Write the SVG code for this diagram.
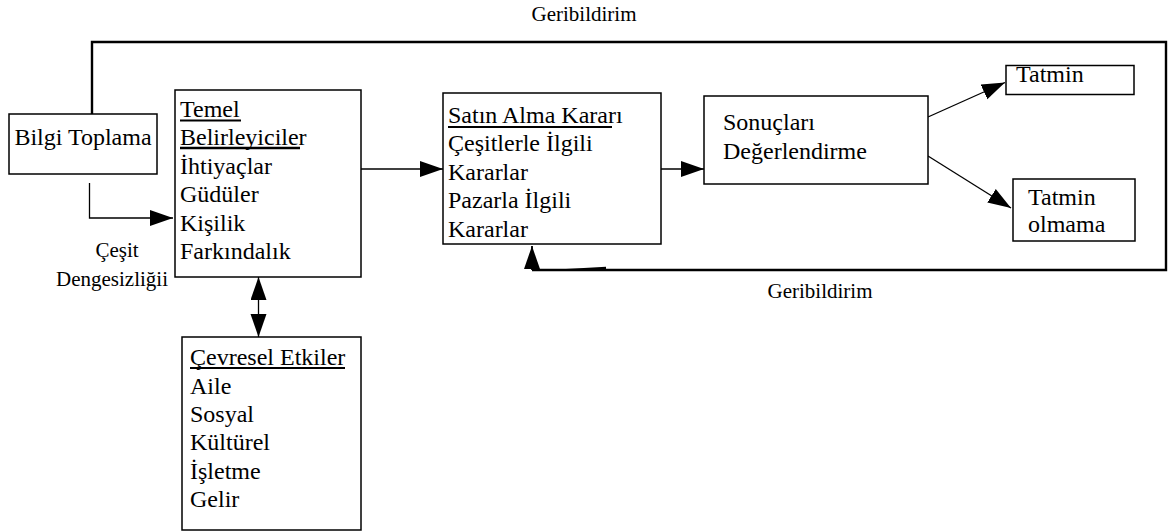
<svg xmlns="http://www.w3.org/2000/svg" width="1172" height="531" viewBox="0 0 1172 531">
  <style>
    .box { fill: #ffffff; stroke: #000000; stroke-width: 1.5; }
    .t { font-family: "Liberation Serif", "Times New Roman", serif; font-size: 24px; fill: #000000; }
    .lbl { font-family: "Liberation Serif", "Times New Roman", serif; font-size: 21px; fill: #000000; }
    .ul { stroke: #000000; stroke-width: 1.8; }
    .ln { fill: none; stroke: #000000; stroke-width: 1.3; }
    .fb { fill: none; stroke: #000000; stroke-width: 2.4; }
  </style>
  <defs>
    <marker id="head" markerUnits="userSpaceOnUse" markerWidth="24" markerHeight="17" refX="23" refY="8" orient="auto-start-reverse" viewBox="0 0 24 17">
      <path d="M0,0 L23,8 L0,16 Z" fill="#000000"/>
    </marker>
  </defs>

  <rect width="1172" height="531" fill="#ffffff"/>

  <!-- connectors -->
  <g id="connectors">
    <!-- upper feedback loop -->
    <path class="fb" d="M92,114 V42 H1166 V270 H532"/>
    <path class="ln" d="M532,270 V246" marker-end="url(#head)" style="stroke-width:1.8"/>
    <path d="M548,270 L606,266.8 L606,270 Z" fill="#000000"/>
    <!-- Bilgi Toplama to Temel Belirleyiciler -->
    <path class="ln" d="M89.5,183 V218 H173" marker-end="url(#head)"/>
    <!-- Temel Belirleyiciler to Satin Alma Karari -->
    <path class="ln" d="M361,169 H443" marker-end="url(#head)"/>
    <!-- Satin Alma Karari to Sonuclari Degerlendirme -->
    <path class="ln" d="M661,169 H704" marker-end="url(#head)"/>
    <!-- outcomes -->
    <path class="ln" d="M928,117 L1005,82.5" marker-end="url(#head)"/>
    <path class="ln" d="M928,156 L1011,208" marker-end="url(#head)"/>
    <!-- two-way link with environmental influences -->
    <path class="ln" d="M258.5,277 V337" marker-start="url(#head)" marker-end="url(#head)"/>
  </g>

  <!-- feedback labels -->
  <text class="lbl" x="584" y="21" text-anchor="middle">Geribildirim</text>
  <text class="lbl" x="820" y="298" text-anchor="middle">Geribildirim</text>
  <text class="lbl" x="117" y="257" text-anchor="middle">Çeşit</text>
  <text class="lbl" x="112" y="286" text-anchor="middle">Dengesizliğii</text>

  <g id="bilgi-toplama">
    <rect class="box" x="9" y="114" width="148" height="60"/>
    <text class="t" x="83" y="145" text-anchor="middle">Bilgi Toplama</text>
  </g>

  <g id="temel-belirleyiciler">
    <rect class="box" x="175" y="90" width="186" height="187"/>
    <text class="t" x="180" y="117">Temel</text>
    <text class="t" x="180" y="145">Belirleyiciler</text>
    <text class="t" x="180" y="173.5">İhtiyaçlar</text>
    <text class="t" x="180" y="202">Güdüler</text>
    <text class="t" x="180" y="230.5">Kişilik</text>
    <text class="t" x="180" y="259">Farkındalık</text>
    <line class="ul" x1="180" y1="120.5" x2="241" y2="120.5"/>
    <line class="ul" x1="180" y1="148" x2="300" y2="148" style="stroke-width:2.4"/>
  </g>

  <g id="satin-alma-karari">
    <rect class="box" x="443" y="93" width="218" height="151"/>
    <text class="t" x="448" y="122.5">Satın Alma Kararı</text>
    <text class="t" x="448" y="151">Çeşitlerle İlgili</text>
    <text class="t" x="448" y="179.5">Kararlar</text>
    <text class="t" x="448" y="208">Pazarla İlgili</text>
    <text class="t" x="448" y="236.5">Kararlar</text>
    <line class="ul" x1="448" y1="127" x2="612" y2="127" style="stroke-width:2.2"/>
  </g>

  <g id="sonuclari-degerlendirme">
    <rect class="box" x="704" y="96" width="224" height="88"/>
    <text class="t" x="723" y="130">Sonuçları</text>
    <text class="t" x="723" y="158.5">Değerlendirme</text>
  </g>

  <g id="tatmin">
    <rect class="box" x="1006" y="65.5" width="128" height="29"/>
    <text class="t" x="1016" y="82">Tatmin</text>
  </g>

  <g id="tatmin-olmama">
    <rect class="box" x="1013" y="179" width="122" height="62"/>
    <text class="t" x="1028" y="204.5">Tatmin</text>
    <text class="t" x="1028" y="232">olmama</text>
  </g>

  <g id="cevresel-etkiler">
    <rect class="box" x="182" y="337" width="179" height="193"/>
    <text class="t" x="190" y="365">Çevresel Etkiler</text>
    <text class="t" x="190" y="393.5">Aile</text>
    <text class="t" x="190" y="422">Sosyal</text>
    <text class="t" x="190" y="450">Kültürel</text>
    <text class="t" x="190" y="478.5">İşletme</text>
    <text class="t" x="190" y="507">Gelir</text>
    <line class="ul" x1="190" y1="368" x2="345" y2="368" style="stroke-width:2.2"/>
  </g>
</svg>
